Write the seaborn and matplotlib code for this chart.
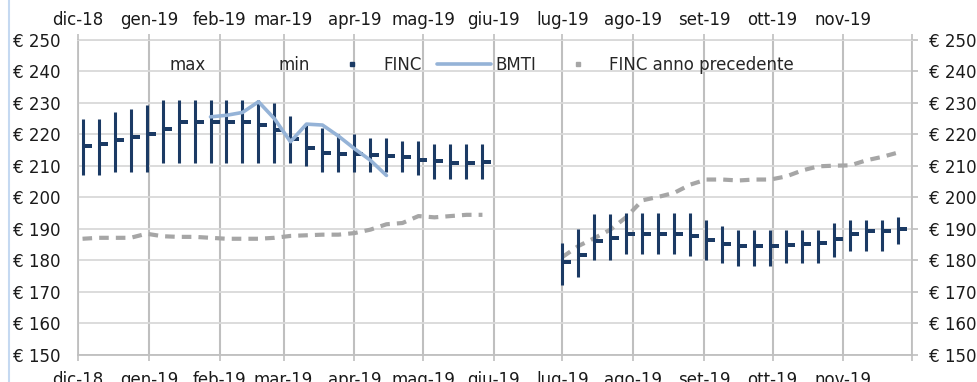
import matplotlib
matplotlib.use('Agg')
import matplotlib.pyplot as plt
import matplotlib.dates as mdates
from matplotlib.lines import Line2D
from matplotlib.markers import MarkerStyle
from matplotlib.path import Path
from matplotlib.ticker import StrMethodFormatter
import seaborn as sns
import pandas as pd

# Weekly quotes (Mondays) - June 2019 missing
settimane_1 = pd.date_range('2018-12-03', periods=26, freq='7D')
settimane_2 = pd.date_range('2019-07-01', periods=22, freq='7D')

max_1 = [225, 225, 227, 228, 229.5, 231, 231, 231, 231, 231, 231, 231, 230,
         226, 223, 222, 220, 220, 219, 219, 218, 218, 217, 217, 217, 217]
min_1 = [207, 207, 208, 208, 208, 211, 211, 211, 211, 211, 211, 211, 211,
         211, 210, 208, 208, 208, 208, 208, 208, 207, 206, 206, 206, 206]
finc_1 = [216.5, 217.1, 218.2, 219.2, 220.2, 221.9, 224, 224, 224.1, 224, 224, 223, 221.4,
          218.5, 215.8, 214, 213.7, 213.7, 213.4, 213.1, 212.7, 211.8, 211.5, 211, 211, 211.4]
prec_1 = [186.9, 187.2, 187.2, 187.2, 188.5, 187.7, 187.5, 187.5, 187.2, 186.9, 186.9, 186.9, 187.2,
          187.8, 188.0, 188.2, 188.2, 188.7, 189.8, 191.5, 191.9, 194.1, 193.7, 194.1, 194.5, 194.5]

max_2 = [185.5, 189.9, 194.9, 194.9, 195, 195, 195, 195, 195, 192.8, 190.9,
         189.8, 189.8, 189.8, 189.8, 189.8, 189.8, 191.9, 192.8, 192.8, 192.8, 193.8]
min_2 = [172.3, 174.9, 180, 180, 182, 182, 182, 182, 181.3, 180, 179.1,
         178.1, 178.1, 178.1, 179.1, 179.1, 179.1, 181.1, 183, 183, 183, 185.1]
finc_2 = [179.5, 181.9, 186.1, 187.1, 188.5, 188.5, 188.5, 188.5, 187.8, 186.4, 185.1,
          184.6, 184.6, 184.6, 184.8, 185.1, 185.5, 186.9, 188.5, 189.4, 189.4, 190]
prec_2 = [181.1, 184.6, 187.1, 189.8, 193.8, 199.1, 200.2, 201.5, 204.1, 205.7, 205.7,
          205.4, 205.7, 205.7, 206.7, 208.6, 209.9, 210.1, 210.2, 211.8, 212.9, 214.3]

# BMTI from end of January to mid April
bmti_date = settimane_1[8:20]
bmti = [225.6, 226.1, 227, 230.4, 225, 217.7, 223.3, 223, 219.5, 215.5, 211.8, 207]

mesi = pd.date_range('2018-12-01', '2019-12-01', freq='MS')
etichette_mesi = ['dic-18', 'gen-19', 'feb-19', 'mar-19', 'apr-19', 'mag-19', 'giu-19',
                  'lug-19', 'ago-19', 'set-19', 'ott-19', 'nov-19', '']

df = pd.DataFrame({
    'data': list(settimane_1) + list(settimane_2),
    'max': max_1 + max_2,
    'min': min_1 + min_2,
    'finc': finc_1 + finc_2,
    'finc_prec': prec_1 + prec_2,
    'tratto': [1] * len(settimane_1) + [2] * len(settimane_2),
})
df_bmti = pd.DataFrame({'data': bmti_date, 'bmti': bmti})

NAVY = '#1B3A64'
LIGHT = '#95B3D7'
GRAY = '#A6A6A6'
GRID_V = '#BFBFBF'
GRID_H = '#D9D9D9'

sns.set_style('white')
plt.rcParams['font.family'] = ['DejaVu Sans']

fig = plt.figure(figsize=(9.77, 3.82), dpi=100)
ax = fig.add_axes([0.0798, 0.0707, 0.8537, 0.8246])
ax.set_axisbelow(True)

# max-min range
ax.vlines(df['data'], df['min'], df['max'], color=NAVY, lw=2.2, zorder=3)

# FINC anno precedente (dashed, two stretches)
sns.lineplot(data=df, x='data', y='finc_prec', units='tratto', estimator=None,
             color=GRAY, lw=3, linestyle=(0, (2.3, 1.7)), ax=ax, zorder=2)

# FINC: short dash to the right of each bar
dash = MarkerStyle(Path([(0, -0.27), (1, -0.27), (1, 0.27), (0, 0.27), (0, -0.27)],
                        [Path.MOVETO, Path.LINETO, Path.LINETO, Path.LINETO, Path.CLOSEPOLY]))
sns.scatterplot(data=df, x='data', y='finc', marker=dash, s=170, color=NAVY,
                linewidth=0, ax=ax, zorder=4)

# BMTI
sns.lineplot(data=df_bmti, x='data', y='bmti', color=LIGHT, lw=2.6, ax=ax, zorder=5)

xmin, xmax = pd.Timestamp('2018-12-01'), pd.Timestamp('2019-12-01')
ax.set_xlim(xmin, xmax)
ax.set_ylim(150, 250)
ax.set_xticks(mesi)
ax.set_xticklabels(etichette_mesi)
ax.set_yticks(range(150, 251, 10))
ax.yaxis.set_major_formatter(StrMethodFormatter('€ {x:.0f}'))
ax.set_xlabel('')
ax.set_ylabel('')

ax.yaxis.grid(True, color=GRID_H, lw=1.3)
ax.xaxis.grid(True, color=GRID_V, lw=1.5)
for s in ax.spines.values():
    s.set_color(GRID_V)
    s.set_linewidth(1.3)
ax.spines['top'].set_color(GRID_H)

ax.tick_params(axis='both', direction='out', length=4.5, width=1.2, color=GRID_V,
               labelsize=12, labelcolor='#1a1a1a')
ax.tick_params(axis='x', pad=7)
ax.tick_params(axis='y', right=True, labelright=True, pad=8)

# month labels repeated on top
top = ax.twiny()
top.set_xlim(mdates.date2num(xmin), mdates.date2num(xmax))
top.set_xticks(mdates.date2num(mesi))
top.set_xticklabels(etichette_mesi)
top.tick_params(axis='x', direction='out', length=4.5, width=1.2, color=GRID_V,
                labelsize=12, labelcolor='#1a1a1a', pad=3.5)
for s in top.spines.values():
    s.set_visible(False)

handles = [
    Line2D([], [], linestyle='none', label='max'),
    Line2D([], [], linestyle='none', label='min'),
    Line2D([], [], linestyle='none', marker='s', markersize=3, color=NAVY, label='FINC'),
    Line2D([], [], color=LIGHT, lw=2.6, label='BMTI'),
    Line2D([], [], linestyle='none', marker='s', markersize=3, color=GRAY,
           label='FINC anno precedente'),
]
ax.legend(handles=handles, ncol=5, frameon=False, loc='center', bbox_to_anchor=(0.449, 0.92),
          handlelength=3.25, handletextpad=0.25, columnspacing=0.9, fontsize=12,
          borderaxespad=0)

fig.add_artist(Line2D([0.0095, 0.0095], [0, 1], transform=fig.transFigure, color='#C5D9F1', lw=1.5))

fig.savefig('out.png', dpi=100)
